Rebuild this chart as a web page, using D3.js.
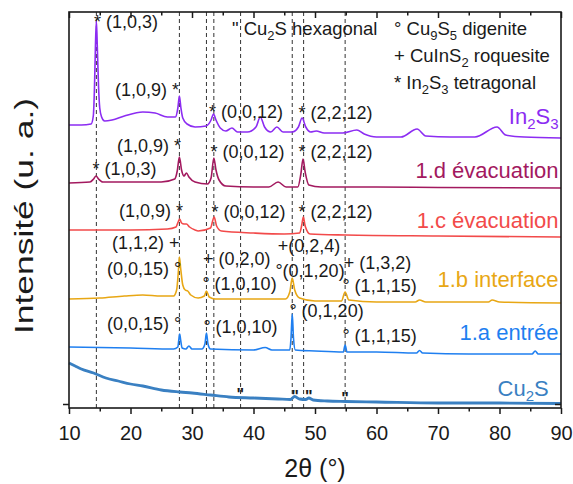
<!DOCTYPE html>
<html><head><meta charset="utf-8">
<script src="https://cdn.jsdelivr.net/npm/d3@7"></script>
<style>
body{margin:0;background:#fff}
svg{display:block}
text{font-family:"Liberation Sans",Arial,Helvetica,sans-serif}
</style>
</head><body>
<svg id="chart" width="573" height="484"></svg>
<script>
// ---------- DATA ----------
const xMajorTicks = [10,20,30,40,50,60,70,80,90];
const xMinorTicks = [15,25,35,45,55,65,75,85];
const refLines = [14.45, 27.95, 32.35, 33.55, 37.9, 46.3, 48.15, 54.9];

// [2θ, intensity (a.u., stacked)]
const in2s3 = [[10,283],[12,283],[13.6,284],[13.95,292],[14.15,322],[14.3,362],[14.45,387],[14.6,362],[14.8,322],[15.0,300],[15.3,291],[15.8,287],[17,288],[19,292],[22,296],[24,295],[26,291],[27.3,291],[27.7,300],[27.95,312],[28.2,300],[28.5,290],[29.2,284],[30.5,281],[32.3,282],[33.1,288],[33.5,294],[33.9,288],[34.6,280],[35.5,277],[36.5,280],[37.4,276],[39,276],[40.4,281],[41.1,291],[41.8,281],[42.8,276],[43.8,281],[44.8,276],[46.3,276],[47.3,281],[47.9,290],[48.5,281],[49.3,276],[50.2,277],[51.5,275],[54.5,275],[56.8,278],[58,274],[60,271],[64,271],[66.6,279],[68,272],[72,271],[76,271],[79.6,281],[81,273],[84,271],[90,270]];
const evac1d = [[10,225],[13.4,226],[14.0,229],[14.4,232],[14.8,229],[15.5,226],[20,226],[25,226],[27.2,229],[27.6,237],[27.95,251],[28.3,238],[28.7,232],[29.1,235],[29.5,231],[30.5,226],[32.5,224],[33.1,230],[33.55,250],[33.9,238],[34.4,228],[35.5,222],[40,221],[42.5,221],[44,226],[45.3,221],[47.2,221],[47.7,234],[48.05,249],[48.4,236],[49,223],[51,221],[60,221],[70,220.5],[90,220]];
const evac1c = [[10,178],[20,178],[26,179],[27.4,181],[27.75,186],[28.0,189],[28.3,185],[28.7,184],[29.1,184],[29.6,181],[30.5,178],[31,177],[33.0,180],[33.6,191],[34.0,182],[34.8,177],[40,175],[45,174],[47.5,175],[47.85,183],[48.1,191],[48.4,182],[49.2,174],[55,173],[70,172],[90,171]];
const iface1b = [[10,109],[15,110],[19,112],[22,113],[25,112],[27.0,112],[27.5,118],[27.8,138],[27.95,151],[28.15,140],[28.5,123],[28.9,118],[29.3,117],[29.8,113],[31.0,110],[32.0,112],[32.35,117],[32.8,111],[33.8,109],[40,109],[45.2,109],[45.9,116],[46.3,130],[46.7,118],[47.5,110],[50,107],[54.3,107],[54.9,116],[55.5,108],[60,106],[66.3,106],[67,108],[68,106],[78.2,106],[78.8,108],[80,106],[90,105]];
const entree1a = [[10,61],[20,60],[27,59],[27.7,61],[27.85,68],[28.0,74],[28.15,68],[28.4,60],[29.0,59],[29.5,62],[30.0,59],[31.6,59],[32.1,64],[32.35,75],[32.6,64],[33.0,59],[40,58],[41.9,60.5],[43,58],[45.9,58],[46.1,70],[46.3,94],[46.5,70],[46.8,58],[50,57],[54.6,56],[54.9,63],[55.2,56],[60,56],[66.5,55],[67,57.5],[67.5,55],[75,54],[85.3,54],[85.8,57],[86.3,54],[90,54]];
const cu2s = [[10,45],[11,42],[12,39],[14,35],[16,30],[18,27],[20,24],[22,22],[25,18],[28,16],[30,15],[33,13],[36,11],[40,10],[44,9],[46.0,8.5],[46.7,11.5],[47.5,9],[48.5,8.5],[49.0,10],[49.7,8],[52,7],[55,6.5],[60,6],[70,5],[80,5],[90,4.5]];

const seriesNames = ["In_{2}S_{3}","1.d évacuation","1.c évacuation","1.b interface","1.a entrée","Cu_{2}S"];
const seriesData = [in2s3, evac1d, evac1c, iface1b, entree1a, cu2s];
// label anchor [2θ, intensity]
const seriesLabelPos = [[89.6,284],[89.6,230],[89.6,180],[89.6,121],[89.6,68],[88.0,12]];

// annotations: [text, 2θ, intensity]
const annotations = [
  ["* (1,0,3)",14.07,380],["(1,0,9) *",17.48,312],["* (0,0,12)",32.76,290],["* (2,2,12)",47.32,289],
  ["* (1,0,3)",13.82,233],["(1,0,9) *",17.8,256],["* (0,0,12)",33.0,250],["* (2,2,12)",47.32,250],
  ["(1,0,9) *",18.13,191],["* (0,0,12)",33.17,190],["* (2,2,12)",47.32,190],
  ["(1,1,2) +",16.99,159],["(0,0,15) °",16.18,133],["+ (0,2,0)",31.79,143],["° (1,0,10)",31.69,118],
  ["+(0,2,4)",43.93,156],["°(0,1,20)",43.56,131],["+ (1,3,2)",54.67,139],["° (1,1,15)",54.46,116],
  ["(0,0,15) °",16.18,78],["° (1,0,10)",31.85,75],["° (0,1,20)",45.84,91],["° (1,1,15)",54.46,66]
];
const cu2sMarks = [[37.85,8],[46.75,6],[49.0,6],[54.88,4]];

const legendLabels = ['" Cu_{2}S hexagonal', "° Cu_{9}S_{5} digenite", "+ CuInS_{2} roquesite", "* In_{2}S_{3} tetragonal"];

// ---------- STYLE / LAYOUT ----------
const colors = ["#8c2cf2","#a3195f","#f24a4a","#e8a714","#1f7ff0","#3a80c2"];
const widths = [1.6,1.6,1.6,1.6,1.6,2.8];
const svg = d3.select("#chart");
const L=69, R=561, T=12, B=408;
const x = d3.scaleLinear().domain([10,90]).range([L,R]);
const y = d3.scaleLinear().domain([0,396]).range([B,T]);
const ink = "#1a1a1a";

function rich(sel, str, subSize, shift){
  const parts = str.split(/(_\{[^}]*\})/);
  let pending = 0;
  parts.forEach(p=>{
    if(!p) return;
    const isSub = p.startsWith("_{");
    const t = sel.append("tspan").text(isSub ? p.slice(2,-1) : p);
    if(isSub){ t.attr("font-size",subSize).attr("dy",shift); pending = -shift; }
    else if(pending){ t.attr("dy",pending); pending = 0; }
  });
}

// reference dashed lines
svg.append("g").selectAll("line").data(refLines).join("line")
  .attr("x1",d=>x(d)).attr("x2",d=>x(d)).attr("y1",B).attr("y2",T)
  .attr("stroke","#333").attr("stroke-width",1).attr("stroke-dasharray","4,3");

// curves
const line = d3.line().x(d=>x(d[0])).y(d=>y(d[1])).curve(d3.curveMonotoneX);
svg.append("g").selectAll("path").data(seriesData).join("path")
  .attr("d",line).attr("fill","none")
  .attr("stroke",(d,i)=>colors[i]).attr("stroke-width",(d,i)=>widths[i])
  .attr("stroke-linejoin","round");

// axes
const gB = svg.append("g").attr("transform",`translate(0,${B})`)
  .call(d3.axisBottom(x).tickValues(xMajorTicks).tickSize(6).tickSizeOuter(0).tickPadding(12).tickFormat(d3.format("d")));
gB.selectAll("text").attr("font-size",20).attr("fill",ink).attr("font-family",null);
const gBm = svg.append("g").attr("transform",`translate(0,${B})`)
  .call(d3.axisBottom(x).tickValues(xMinorTicks).tickSize(3.5).tickSizeOuter(0).tickFormat(""));
const gT = svg.append("g").attr("transform",`translate(0,${T})`)
  .call(d3.axisTop(x).tickValues(xMajorTicks).tickSize(-6).tickSizeOuter(0).tickFormat(""));
const gTm = svg.append("g").attr("transform",`translate(0,${T})`)
  .call(d3.axisTop(x).tickValues(xMinorTicks).tickSize(-3.5).tickSizeOuter(0).tickFormat(""));
const gL = svg.append("g").attr("transform",`translate(${L},0)`)
  .call(d3.axisLeft(y).tickValues([4]).tickSize(6).tickSizeOuter(0).tickFormat(""));
const gR = svg.append("g").attr("transform",`translate(${R},0)`)
  .call(d3.axisRight(y).tickValues([4]).tickSize(-6).tickSizeOuter(0).tickFormat(""));
[gB,gBm,gT,gTm,gL,gR].forEach(g=>{
  g.select(".domain").remove();
  g.selectAll(".tick line").attr("stroke",ink).attr("stroke-width",1.5);
});
svg.append("rect").attr("x",L).attr("y",T).attr("width",R-L).attr("height",B-T)
  .attr("fill","none").attr("stroke",ink).attr("stroke-width",1.6);

// axis titles
svg.append("text").attr("x",315).attr("y",477).attr("text-anchor","middle")
  .attr("font-size",25).attr("fill",ink).text("2θ (°)");
svg.append("text").attr("transform","translate(33,216) rotate(-90)").attr("text-anchor","middle")
  .attr("font-size",26).attr("fill",ink)
  .attr("textLength",236).attr("lengthAdjust","spacingAndGlyphs").text("Intensité (u. a.)");

// series labels
seriesNames.forEach((n,i)=>{
  const t = svg.append("text").attr("x",x(seriesLabelPos[i][0])).attr("y",y(seriesLabelPos[i][1]))
    .attr("text-anchor","end").attr("font-size",22).attr("fill",colors[i]);
  rich(t,n,15,5);
});

// annotations
svg.append("g").selectAll("text").data(annotations).join("text")
  .attr("x",d=>x(d[1])).attr("y",d=>y(d[2])).attr("font-size",18).attr("fill",ink).text(d=>d[0]);
svg.append("g").selectAll("text").data(cu2sMarks).join("text")
  .attr("x",d=>x(d[0])).attr("y",d=>y(d[1])).attr("text-anchor","middle")
  .attr("font-size",16).attr("font-weight","bold").attr("fill",ink).text('"');

// legend
const legX = [232,394,394,394], legY = [35,35,62,89];
legendLabels.forEach((s,i)=>{
  const t = svg.append("text").attr("x",legX[i]).attr("y",legY[i]).attr("font-size",18.5).attr("fill",ink);
  rich(t,s,13,4.5);
});
</script>
</body></html>
